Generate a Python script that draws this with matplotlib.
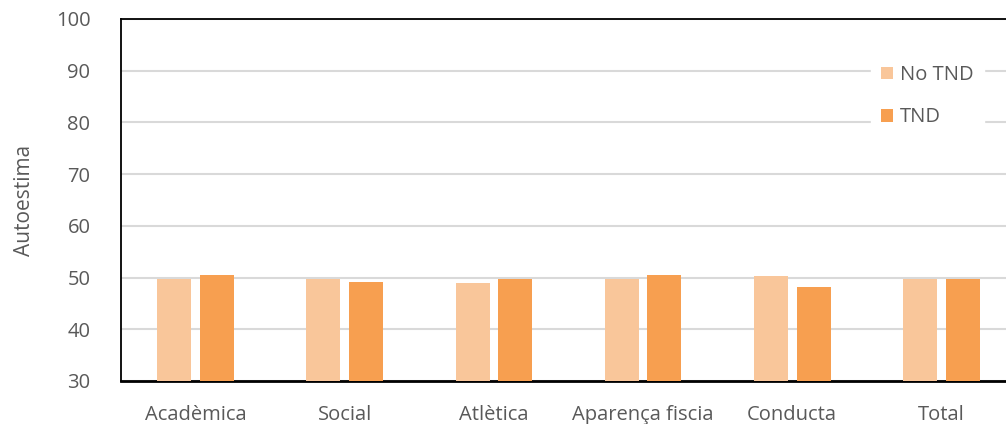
import matplotlib.pyplot as plt
import numpy as np

categories = ["Acadèmica", "Social", "Atlètica", "Aparença fiscia", "Conducta", "Total"]
no_tnd = [49.8, 49.8, 49.0, 49.8, 50.3, 49.8]
tnd = [50.5, 49.2, 49.8, 50.5, 48.2, 49.8]
series_labels = ["No TND", "TND"]

plt.rcParams["font.family"] = ["Open Sans", "DejaVu Sans"]
grey = "#595959"

fig = plt.figure(figsize=(10.06, 4.24), dpi=100)
ax = fig.add_axes([121 / 1006, 1 - 381 / 424, (1016 - 121) / 1006, (381 - 19) / 424])

x = np.arange(len(categories))
w = 0.228
b1 = ax.bar(x - 0.143, [v - 30 for v in no_tnd], w, bottom=30, color="#F9C69A", zorder=3)
b2 = ax.bar(x + 0.143, [v - 30 for v in tnd], w, bottom=30, color="#F79F50", zorder=3)

ax.set_xlim(-0.5, len(categories) - 0.5)
ax.set_ylim(30, 100)
ax.set_yticks(range(30, 101, 10))
ax.set_xticks(x)
ax.set_xticklabels(categories)
ax.tick_params(axis="both", length=0, labelsize=14.5, labelcolor=grey)
ax.tick_params(axis="y", pad=22)
ax.tick_params(axis="x", pad=17)
ax.grid(axis="y", color="#d9d9d9", linewidth=1.5, zorder=0)
ax.set_axisbelow(True)

for s in ["left", "top"]:
    ax.spines[s].set_linewidth(1.3)
ax.spines["bottom"].set_linewidth(2)
ax.spines["right"].set_visible(False)

ax.set_ylabel("Autoestima", fontsize=15, color=grey, labelpad=15)

leg = ax.legend([b1, b2], series_labels, loc="upper left",
                bbox_to_anchor=(861 / 1006, 1 - 45 / 424), bbox_transform=fig.transFigure,
                frameon=True, framealpha=1, edgecolor="white", fancybox=False,
                handlelength=0.6, handleheight=0.6, handletextpad=0.35,
                labelspacing=1.1, fontsize=14.5, borderpad=0.5)
for t in leg.get_texts():
    t.set_color(grey)

fig.savefig("out.png", dpi=100)
